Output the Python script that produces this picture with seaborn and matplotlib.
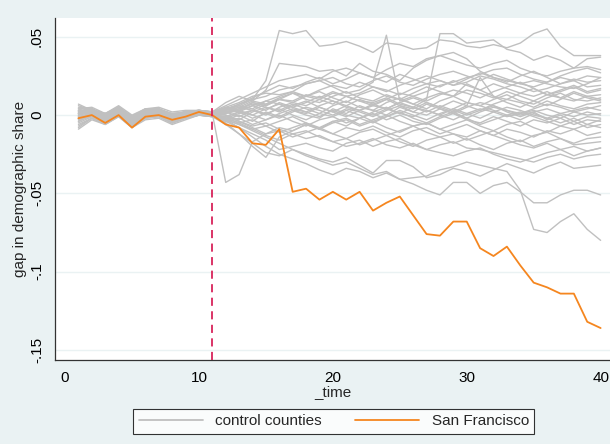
import numpy as np
import pandas as pd
import matplotlib
matplotlib.use("Agg")
import matplotlib.pyplot as plt
import seaborn as sns
from matplotlib.lines import Line2D

# gap values in thousandths, t = 1..40 (treatment after t = 11)
time = list(range(1, 41))
treat_time = 11

san_francisco = [-2, 0, -5, 0, -8, -1, 0, -3, -1, 2, 0,
                 -6, -8, -18, -19, -9, -49, -47, -54, -49, -54, -49, -61, -56, -52, -64,
                 -76, -77, -68, -68, -85, -90, -84, -96, -107, -110, -114, -114, -132, -136]

c01 = [3, 4, 0, 5, -2, 3, 4, 0, 2, 3, 2,
       4, 6, 10, 22, 54, 52, 54, 44, 45, 47, 44, 40, 46, 45, 42, 43, 48, 47, 44, 43, 45, 43, 46, 52, 55, 44, 38, 38, 38]
c02 = [1, 3, -2, 4, -3, 2, 3, -1, 1, 2, 1,
       3, 5, 9, 16, 33, 32, 31, 28, 29, 25, 33, 28, 26, 22, 30, 35, 38, 40, 36, 28, 24, 22, 20, 22, 20, 18, 17, 20, 24]
c03 = [-2, 1, -4, 2, -5, 0, 1, -3, 0, 1, 0,
       2, 3, 6, 9, 12, 15, 20, 22, 18, 14, 16, 21, 51, 9, 12, 15, 19, 21, 24, 26, 29, 30, 26, 23, 21, 25, 28, 30, 27]
c04 = [4, 5, 1, 6, 0, 4, 5, 2, 3, 3, 2,
       5, 8, 12, 14, 13, 15, 12, 10, 14, 12, 9, 8, 11, 7, 5, 10, 52, 52, 46, 47, 48, 42, 40, 35, 38, 35, 30, 36, 37]
c05 = [2, 4, -1, 5, -2, 3, 4, 1, 2, 3, 2,
       6, 10, 14, 18, 22, 24, 26, 23, 28, 30, 27, 24, 29, 33, 31, 36, 38, 35, 32, 30, 33, 35, 30, 27, 25, 28, 30, 31, 29]
c06 = [0, 2, -3, 3, -4, 1, 2, -2, 1, 2, 1,
       4, 7, 10, 12, 16, 18, 20, 22, 24, 20, 18, 22, 25, 21, 19, 23, 26, 28, 25, 22, 26, 23, 20, 18, 21, 24, 22, 25, 24]
c07 = [3, 2, -1, 4, -2, 3, 2, -1, 2, 1, 1,
       5, 3, 8, 6, 10, 9, 13, 11, 15, 12, 14, 18, 16, 13, 17, 20, 22, 19, 21, 25, 23, 20, 18, 15, 17, 20, 22, 18, 19]
c08 = [-4, 0, -5, 1, -6, -1, 0, -4, -1, 1, 0,
       -2, 1, 3, 0, 5, 8, 6, 10, 7, 12, 9, 6, 10, 14, 12, 9, 13, 16, 14, 11, 15, 18, 21, 17, 13, 15, 18, 14, 16]
c09 = [6, 3, 1, 5, -1, 4, 3, 1, 2, 2, 2,
       8, 12, 9, 7, 11, 14, 10, 8, 12, 15, 11, 9, 13, 10, 7, 11, 14, 12, 20, 16, 12, 10, 14, 17, 13, 11, 15, 12, 13]
c10 = [-1, 1, -3, 2, -4, 1, 1, -2, 0, 2, 1,
       0, -3, 2, 5, 3, 7, 4, 1, 6, 9, 5, 3, 8, 11, 7, 4, 9, 12, 8, 6, 10, 13, 9, 7, 11, 14, 10, 9, 11]
c11 = [2, 3, -2, 4, -3, 2, 3, 0, 1, 3, 1,
       3, 6, 4, 9, 7, 5, 8, 12, 9, 6, 10, 7, 4, 8, 11, 8, 5, 9, 6, 3, 7, 10, 8, 5, 9, 6, 4, 7, 8]
c12 = [-6, -2, -5, 0, -7, -2, -1, -5, -2, 0, -1,
       -3, 0, -4, 2, -1, 3, 0, -2, 4, 1, 6, 3, 0, 5, 2, 7, 4, 1, 5, 8, 6, 3, 1, 4, 7, 5, 2, 4, 6]
c13 = [1, 2, -2, 3, -3, 2, 2, -2, 1, 2, 1,
       2, -1, 3, 1, -2, 2, 5, 3, 0, 4, 2, -1, 3, 6, 2, 0, 4, 1, -2, 2, 5, 3, 0, 2, 4, 1, 3, 5, 3]
c14 = [-3, 0, -4, 1, -5, 0, 1, -3, 0, 1, 0,
       -1, 2, 0, -3, 1, 4, 2, -1, 3, 0, -2, 2, 5, 1, -1, 3, 0, -3, 1, 4, 2, -1, 1, 3, 0, -2, 2, 0, 1]
c15 = [4, 1, -1, 3, -2, 3, 1, -1, 2, 2, 2,
       1, 4, 7, 5, 2, 6, 9, 5, 2, 6, 3, 0, 4, 8, 5, 2, 6, 3, 0, 3, 6, 2, -1, 2, -3, 0, -4, -1, -2]
c16 = [-8, -2, -6, -1, -8, -3, -2, -6, -3, 0, -1,
       -4, -2, -6, -3, 0, -4, -7, -3, -1, -5, -2, 1, -3, 0, -4, -6, -2, 1, -3, -5, -1, -4, -7, -3, -5, -2, -6, -3, -4]
c17 = [0, 2, -2, 2, -4, 1, 2, -1, 1, 2, 1,
       -2, -5, -3, -7, -4, -1, -5, -8, -4, -2, -6, -3, 0, -4, -7, -5, -9, -6, -3, -7, -10, -6, -4, -8, -11, -7, -9, -6, -8]
c18 = [-2, 1, -3, 1, -5, 0, 1, -3, 0, 1, 0,
       -3, -6, -9, -7, -11, -8, -5, -9, -12, -8, -10, -7, -11, -14, -10, -8, -12, -9, -6, -10, -13, -9, -11, -14, -10, -12, -9, -13, -11]
c19 = [5, 4, 0, 5, -1, 4, 4, 0, 2, 3, 2,
       0, -4, -8, -12, -10, -14, -11, -8, -12, -15, -11, -9, -13, -10, -7, -11, -14, -12, -16, -13, -10, -14, -17, -13, -11, -15, -18, -15, -14]
c20 = [-5, -1, -4, 0, -6, -1, 0, -4, -1, 1, 0,
       -2, -5, -9, -13, -16, -12, -10, -14, -17, -15, -19, -16, -13, -17, -20, -16, -14, -18, -15, -19, -22, -18, -16, -20, -17, -15, -19, -18, -17]
c21 = [7, 3, 1, 4, -2, 3, 2, 0, 2, 2, 2,
       -3, -8, -12, -16, -22, -20, -18, -21, -23, -18, -16, -20, -17, -15, -19, -22, -24, -26, -23, -21, -25, -28, -30, -27, -24, -22, -26, -23, -21]
c22 = [-9, -3, -6, -1, -8, -2, -1, -5, -2, 0, -1,
       -6, -12, -18, -24, -26, -22, -25, -28, -30, -27, -32, -37, -29, -29, -33, -40, -38, -34, -36, -39, -35, -31, -34, -37, -33, -30, -34, -33, -32]
c23 = [2, 2, -1, 3, -3, 2, 2, -1, 1, 2, 1,
       -43, -38, -17, -12, -8, -10, -6, -9, -5, -3, -7, -4, -8, -11, -7, -5, -9, -12, -14, -10, -13, -16, -19, -21, -18, -22, -20, -23, -21]
c24 = [-4, 0, -4, 1, -6, 0, 0, -3, 0, 1, 0,
       -4, -8, -14, -20, -25, -28, -31, -35, -38, -34, -36, -40, -37, -41, -44, -48, -51, -43, -43, -50, -45, -43, -49, -56, -56, -51, -48, -48, -51]
c25 = [-7, -2, -5, 0, -7, -1, -1, -5, -2, 0, -1,
       -3, -6, -10, -14, -18, -22, -26, -29, -32, -30, -34, -38, -36, -41, -40, -39, -35, -33, -30, -32, -34, -36, -48, -73, -75, -68, -63, -73, -80]
c26 = [3, 1, -3, 2, -4, 1, 0, -3, 0, 1, 0,
       -1, -4, -7, -5, -9, -12, -15, -13, -17, -20, -18, -15, -19, -21, -18, -22, -19, -17, -21, -22, -24, -26, -28, -30, -27, -25, -28, -26, -25]
c27 = [1, 4, 0, 5, -1, 3, 4, 0, 2, 3, 2,
       4, 2, 6, 3, 8, 5, 2, 6, 9, 5, 3, 7, 10, 6, 4, 8, 5, 2, 6, 24, 12, 8, 5, 9, 6, 10, 14, 11, 9]
c28 = [-2, 2, -3, 2, -4, 1, 2, -2, 1, 2, 1,
       1, 3, 0, 4, 7, 3, 1, 5, 2, -1, 3, 6, 4, 1, 5, 3, 0, 4, 8, 6, 3, 0, -3, 1, -2, -5, -2, -6, -3]
c29 = [0, 3, -1, 4, -2, 2, 3, -1, 1, 3, 1,
       2, 5, 3, 7, 10, 8, 12, 15, 11, 8, 13, 16, 12, 10, 14, 18, 15, 12, 16, 14, 11, 15, 12, 9, 13, 16, 19, 15, 17]
c30 = [-3, -1, -5, 1, -5, 0, 0, -3, -1, 1, 0,
       -1, 2, -2, 1, 4, 0, -3, 1, -1, 3, 0, -4, -1, 2, -2, -5, -1, 2, -2, -6, -3, 0, 2, -1, -4, -7, -4, -8, -6]
c31 = [2, 3, 1, 4, -1, 3, 3, 0, 2, 2, 1,
       3, 7, 11, 15, 19, 17, 21, 24, 20, 23, 27, 24, 21, 26, 23, 20, 18, 22, 19, 16, 20, 17, 14, 12, 15, 11, 9, 12, 10]
c32 = [-1, 1, -3, 2, -4, 0, 1, -2, 0, 1, 0,
       -5, -12, -20, -27, -14, -10, -6, -9, -4, -7, -2, -5, -1, 3, 0, -3, 1, 4, 1, -2, 2, 5, 3, 0, -2, 1, -1, 2, 0]
c33 = [1, 2, -2, 3, -3, 1, 2, -1, 1, 2, 1,
       2, 4, 8, 6, 10, 14, 12, 16, 19, 17, 21, 18, 15, 19, 22, 25, 22, 19, 23, 27, 24, 21, 25, 28, 24, 20, 23, 21, 22]

controls = [c01, c02, c03, c04, c05, c06, c07, c08, c09, c10, c11, c12, c13, c14, c15, c16, c17,
            c18, c19, c20, c21, c22, c23, c24, c25, c26, c27, c28, c29, c30, c31, c32, c33]

x_ticks = [0, 10, 20, 30, 40]
y_ticks = [0.05, 0, -0.05, -0.1, -0.15]
y_labels = [".05", "0", "-.05", "-.1", "-.15"]
legend_labels = ["control counties", "San Francisco"]

# long format for seaborn
rows = []
for i, c in enumerate(controls):
    assert len(c) == len(time)
    for t, v in zip(time, c):
        rows.append({"county": i, "_time": t, "gap": v / 1000})
ctrl = pd.DataFrame(rows)
sf = pd.DataFrame({"_time": time, "gap": np.array(san_francisco) / 1000})

sns.set_style("white")
plt.rcParams["font.family"] = ["Liberation Sans", "DejaVu Sans"]

bg = "#eaf2f3"
gray = "#c0c0c0"
orange = "#f5861f"

fig = plt.figure(figsize=(6.1, 4.44), dpi=100, facecolor=bg)
ax = fig.add_axes([55 / 610, 1 - 360 / 444, 555 / 610, 342 / 444])
ax.set_facecolor("white")

sns.lineplot(data=ctrl, x="_time", y="gap", units="county", estimator=None,
             color=gray, lw=1.0, ax=ax, legend=False)
sns.lineplot(data=sf, x="_time", y="gap", color=orange, lw=1.3, ax=ax, zorder=4)
ax.axvline(treat_time, color="#d8235a", lw=1.3, ls=(0, (4.5, 3)), zorder=5)

ax.set_xlim(-0.75, 40.7)
ax.set_ylim(-0.1564, 0.062)
ax.set_xticks(x_ticks)
ax.set_yticks(y_ticks)
ax.set_yticklabels(y_labels, rotation=90, va="center")
ax.tick_params(axis="both", direction="out", length=5, width=0.8, color="#333333",
               labelsize=11, labelcolor="black", pad=3)
ax.yaxis.grid(True, color=bg, lw=1.0)
ax.set_axisbelow(True)
for s in ["top", "right"]:
    ax.spines[s].set_visible(False)
for s in ["left", "bottom"]:
    ax.spines[s].set_color("#333333")
    ax.spines[s].set_linewidth(0.9)

ax.set_xlabel("_time", fontsize=11, labelpad=0)
ax.set_ylabel("gap in demographic share", fontsize=11, labelpad=2)

handles = [Line2D([], [], color=gray, lw=1.3), Line2D([], [], color=orange, lw=1.3)]
leg = fig.legend(handles, legend_labels, loc="lower center", bbox_to_anchor=(0.547, 0.006),
                 ncol=2, frameon=True, fancybox=False, fontsize=11, handlelength=4.2,
                 columnspacing=2.2, handletextpad=0.8, borderpad=0.35)
leg.get_frame().set_edgecolor("black")
leg.get_frame().set_linewidth(0.8)

fig.savefig("out.png", dpi=100, facecolor=bg)
